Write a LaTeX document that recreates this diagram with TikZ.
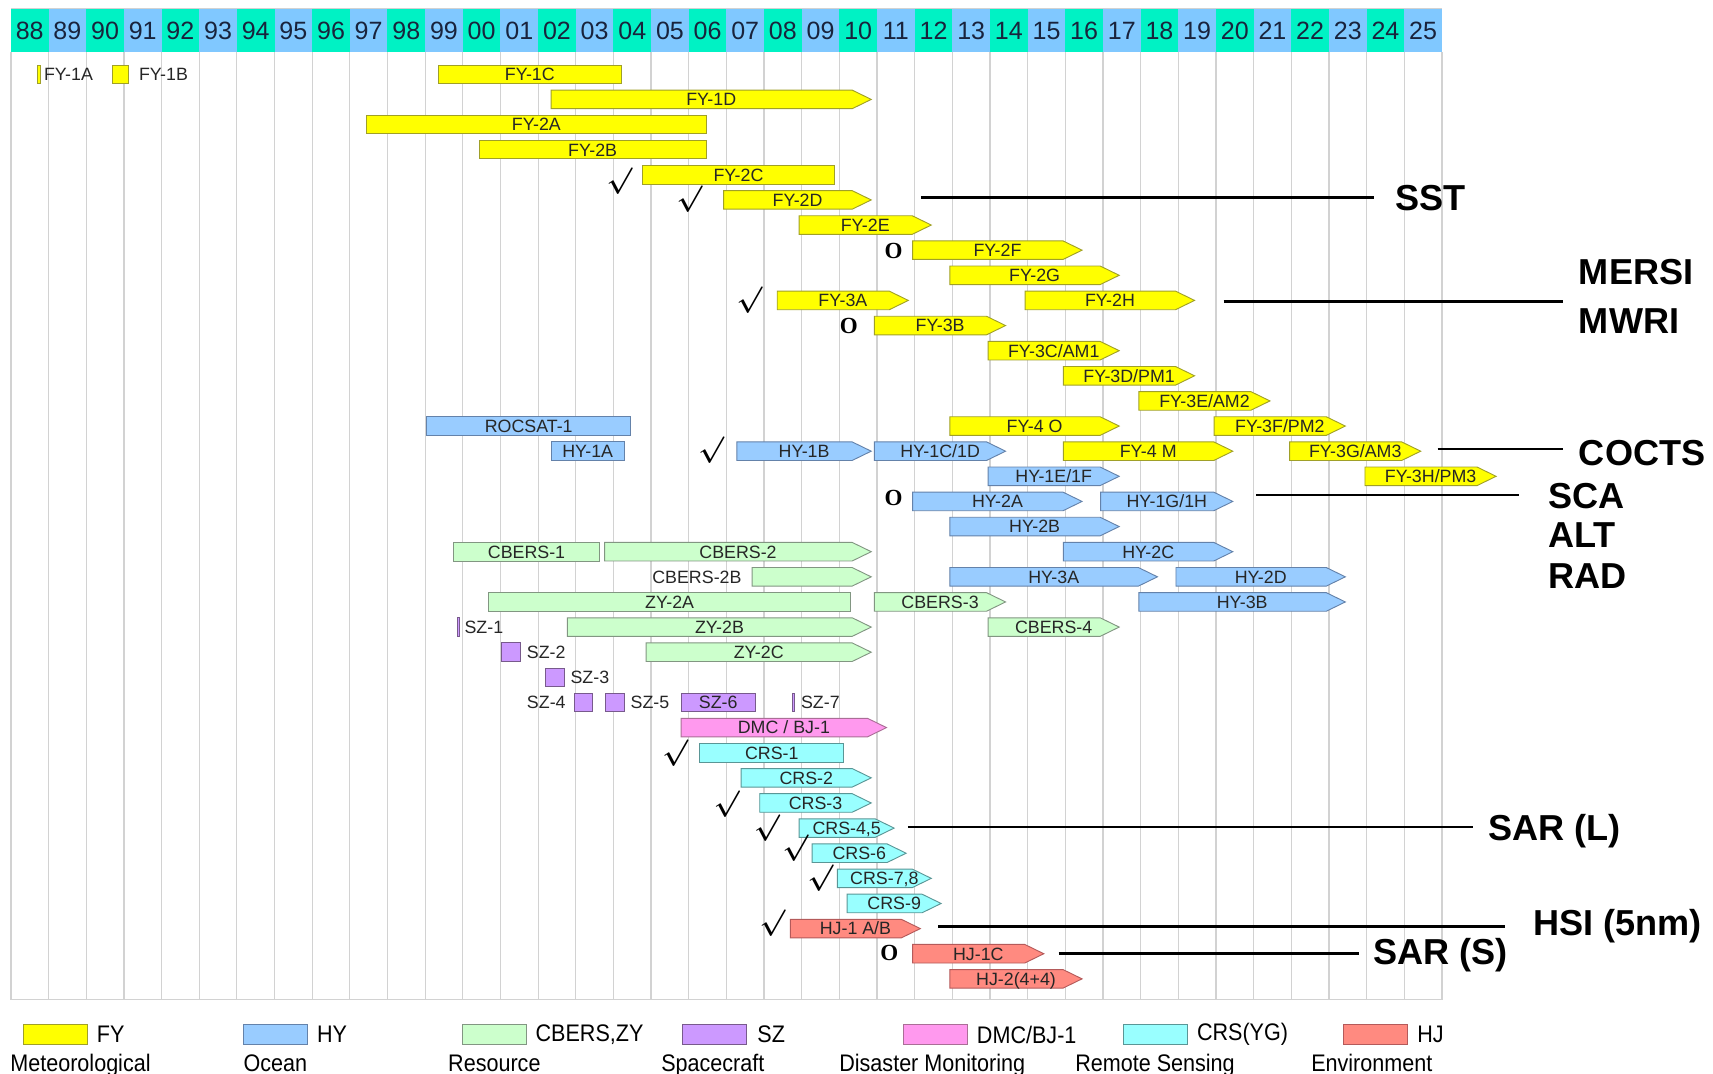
\documentclass[tikz,border=0pt]{standalone}
\usepackage{fontspec}
\setsansfont{Liberation Sans}
\newfontfamily\legfont[FakeStretch=0.9]{Liberation Sans}
\newfontfamily\markfont{Liberation Serif}
\usetikzlibrary{shapes.symbols}

\definecolor{fyfill}{RGB}{255,255,0}
\definecolor{fyline}{RGB}{160,160,40}
\definecolor{hyfill}{RGB}{153,204,255}
\definecolor{hyline}{RGB}{100,130,170}
\definecolor{cbfill}{RGB}{204,255,204}
\definecolor{cbline}{RGB}{130,150,130}
\definecolor{szfill}{RGB}{204,153,255}
\definecolor{szline}{RGB}{120,90,140}
\definecolor{dmcfill}{RGB}{255,153,238}
\definecolor{dmcline}{RGB}{170,110,150}
\definecolor{crsfill}{RGB}{153,255,255}
\definecolor{crsline}{RGB}{90,150,150}
\definecolor{hjfill}{RGB}{255,138,128}
\definecolor{hjline}{RGB}{180,90,90}
\definecolor{hdgreen}{RGB}{0,242,196}
\definecolor{hdblue}{RGB}{128,200,255}
\definecolor{hdtext}{RGB}{25,35,60}

\tikzset{
  rbar/.style={draw, line width=0.6pt, anchor=west, inner sep=0pt, minimum height=0.425cm,
    text height=8.3pt, text depth=0pt, text=black!85, font=\sffamily\fontsize{11.6}{12}\selectfont},
  abar/.style={rbar, signal, signal to=east, signal pointer angle=52,
    execute at begin node={\hspace*{0.22cm}}, execute at end node={\hspace*{-0.22cm}}},
  fy/.style={fill=fyfill, draw=fyline},
  hy/.style={fill=hyfill, draw=hyline},
  cb/.style={fill=cbfill, draw=cbline},
  sz/.style={fill=szfill, draw=szline},
  dmc/.style={fill=dmcfill, draw=dmcline},
  crs/.style={fill=crsfill, draw=crsline},
  hj/.style={fill=hjfill, draw=hjline},
  satlabel/.style={inner sep=0pt, text height=8.3pt, text depth=0pt, text=black!85,
    font=\sffamily\fontsize{11.6}{12}\selectfont},
  yearcell/.style={inner sep=0pt, minimum width=0.862cm, minimum height=1cm, text=hdtext,
    font=\sffamily\fontsize{16.3}{16}\selectfont},
  gridline/.style={gray!35, line width=0.8pt},
  okmark/.style={inner sep=0pt, font=\boldmath\fontsize{18}{18}\selectfont},
  plan/.style={inner sep=0pt, font=\markfont\bfseries\fontsize{15}{15}\selectfont},
  sensor/.style={anchor=west, inner sep=0pt, font=\sffamily\bfseries\fontsize{23.5}{24}\selectfont},
  senseline/.style={line width=1.8pt},
  legbox/.style={draw, line width=0.6pt, anchor=west, minimum width=1.4625cm, minimum height=0.45cm, inner sep=0pt},
  legtext/.style={inner sep=0pt, font=\legfont\fontsize{15.6}{16}\selectfont},
}

\begin{document}
\begin{tikzpicture}[x=0.025cm,y=-0.025cm]
\useasboundingbox (0,0) rectangle (1568,983);

% grid
\foreach \i in {0,...,38}
  \draw[gridline] ({10+34.47*\i},48) -- ({10+34.47*\i},915);
\draw[gridline] (10,915) -- (1320,915);
\draw[gridline] (10,8) -- (1320,8);

% year header
\foreach \yr [count=\i from 0] in {88,89,90,91,92,93,94,95,96,97,98,99,00,01,02,03,04,05,06,07,08,09,10,11,12,13,14,15,16,17,18,19,20,21,22,23,24,25} {
  \ifodd\i \def\hdcol{hdblue}\else \def\hdcol{hdgreen}\fi
  \node[yearcell, fill=\hdcol] (yr\yr) at ({27.235+34.47*\i},28) {\yr};
}

% FY
\node[rbar,fy,minimum width=0.075cm] (fy1a) at (33.6,68) {};
\node[satlabel,anchor=west] (fy1at) at (40,68) {FY-1A};
\node[rbar,fy,minimum width=0.3625cm] (fy1b) at (102.5,68) {};
\node[satlabel,anchor=west] (fy1bt) at (127,68) {FY-1B};
\node[rbar,fy,minimum width=4.175cm] (fy1c) at (401,68) {FY-1C};
\node[abar,fy,minimum width=7.325cm] (fy1d) at (504,91) {FY-1D};
\node[rbar,fy,minimum width=7.775cm] (fy2a) at (335,114) {FY-2A};
\node[rbar,fy,minimum width=5.2cm] (fy2b) at (438,137) {FY-2B};
\node[rbar,fy,minimum width=4.375cm] (fy2c) at (588,160) {FY-2C};
\node[abar,fy,minimum width=3.375cm] (fy2d) at (662,183) {FY-2D};
\node[abar,fy,minimum width=3.025cm] (fy2e) at (731,206) {FY-2E};
\node[abar,fy,minimum width=3.875cm] (fy2f) at (835,229) {FY-2F};
\node[abar,fy,minimum width=3.875cm] (fy2g) at (869,252) {FY-2G};
\node[abar,fy,minimum width=3cm] (fy3a) at (711,275) {FY-3A};
\node[abar,fy,minimum width=3.875cm] (fy2h) at (938,275) {FY-2H};
\node[abar,fy,minimum width=3cm] (fy3b) at (800,298) {FY-3B};
\node[abar,fy,minimum width=3cm] (fy3c) at (904,321) {FY-3C/AM1};
\node[abar,fy,minimum width=3cm] (fy3d) at (973,344) {FY-3D/PM1};
\node[abar,fy,minimum width=3cm] (fy3e) at (1042,367) {FY-3E/AM2};
\node[abar,fy,minimum width=3.875cm] (fy4o) at (869,390) {FY-4 O};
\node[abar,fy,minimum width=3cm] (fy3f) at (1111,390) {FY-3F/PM2};
\node[abar,fy,minimum width=3.875cm] (fy4m) at (973,413) {FY-4 M};
\node[abar,fy,minimum width=3cm] (fy3g) at (1180,413) {FY-3G/AM3};
\node[abar,fy,minimum width=3cm] (fy3h) at (1249,436) {FY-3H/PM3};

% HY
\node[rbar,hy,minimum width=4.675cm] (rocsat) at (390,390) {ROCSAT-1};
\node[rbar,hy,minimum width=1.675cm] (hy1a) at (504,413) {HY-1A};
\node[abar,hy,minimum width=3.075cm] (hy1b) at (674,413) {HY-1B};
\node[abar,hy,minimum width=3cm] (hy1c) at (800,413) {HY-1C/1D};
\node[abar,hy,minimum width=3cm] (hy1e) at (904,436) {HY-1E/1F};
\node[abar,hy,minimum width=3.875cm] (hy2a) at (835,459) {HY-2A};
\node[abar,hy,minimum width=3.025cm] (hy1g) at (1007,459) {HY-1G/1H};
\node[abar,hy,minimum width=3.875cm] (hy2b) at (869,482) {HY-2B};
\node[abar,hy,minimum width=3.875cm] (hy2c) at (973,505) {HY-2C};
\node[abar,hy,minimum width=4.75cm] (hy3a) at (869,528) {HY-3A};
\node[abar,hy,minimum width=3.875cm] (hy2d) at (1076,528) {HY-2D};
\node[abar,hy,minimum width=4.725cm] (hy3b) at (1042,551) {HY-3B};

% CBERS, ZY
\node[rbar,cb,minimum width=3.325cm] (cbers1) at (415,505) {CBERS-1};
\node[abar,cb,minimum width=6.1cm] (cbers2) at (553,505) {CBERS-2};
\node[satlabel,anchor=east] (cbers2bt) at (679,528) {CBERS-2B};
\node[abar,cb,minimum width=2.725cm] (cbers2b) at (688,528) {};
\node[rbar,cb,minimum width=8.275cm] (zy2a) at (447,551) {ZY-2A};
\node[abar,cb,minimum width=3cm] (cbers3) at (800,551) {CBERS-3};
\node[abar,cb,minimum width=6.95cm] (zy2b) at (519,574) {ZY-2B};
\node[abar,cb,minimum width=3cm] (cbers4) at (904,574) {CBERS-4};
\node[abar,cb,minimum width=5.15cm] (zy2c) at (591,597) {ZY-2C};

% SZ
\node[rbar,sz,minimum width=0.05cm] (sz1) at (418,574) {};
\node[satlabel,anchor=west] (sz1t) at (425,574) {SZ-1};
\node[rbar,sz,minimum width=0.425cm] (sz2) at (459,597) {};
\node[satlabel,anchor=west] (sz2t) at (482,597) {SZ-2};
\node[rbar,sz,minimum width=0.425cm] (sz3) at (499,620) {};
\node[satlabel,anchor=west] (sz3t) at (522,620) {SZ-3};
\node[satlabel,anchor=east] (sz4t) at (518,643) {SZ-4};
\node[rbar,sz,minimum width=0.425cm] (sz4) at (525,643) {};
\node[rbar,sz,minimum width=0.425cm] (sz5) at (554,643) {};
\node[satlabel,anchor=west] (sz5t) at (577,643) {SZ-5};
\node[rbar,sz,minimum width=1.7cm] (sz6) at (623,643) {SZ-6};
\node[rbar,sz,minimum width=0.05cm] (sz7) at (725,643) {};
\node[satlabel,anchor=west] (sz7t) at (733,643) {SZ-7};

% DMC, CRS, HJ
\node[abar,dmc,minimum width=4.7cm] (dmc) at (623,666) {DMC / BJ-1};
\node[rbar,crs,minimum width=3.3cm] (crs1) at (640,689) {CRS-1};
\node[abar,crs,minimum width=2.975cm] (crs2) at (678,712) {CRS-2};
\node[abar,crs,minimum width=2.55cm] (crs3) at (695,735) {CRS-3};
\node[abar,crs,minimum width=2.175cm] (crs45) at (731,758) {CRS-4,5};
\node[abar,crs,minimum width=2.15cm] (crs6) at (743,781) {CRS-6};
\node[abar,crs,minimum width=2.15cm] (crs78) at (766,804) {CRS-7,8};
\node[abar,crs,minimum width=2.15cm] (crs9) at (775,827) {CRS-9};
\node[abar,hj,minimum width=2.975cm] (hj1) at (723,850) {HJ-1 A/B};
\node[abar,hj,minimum width=3cm] (hj1c) at (835,873) {HJ-1C};
\node[abar,hj,minimum width=3.025cm] (hj2) at (869,896) {HJ-2(4+4)};

% launched / planned marks
\node[okmark] (ok1) at (567,166) {$\surd$};
\node[okmark] (ok2) at (631,182) {$\surd$};
\node[okmark] (ok3) at (686,275) {$\surd$};
\node[okmark] (ok4) at (651,412) {$\surd$};
\node[okmark] (ok5) at (618,689) {$\surd$};
\node[okmark] (ok6) at (665,736) {$\surd$};
\node[okmark] (ok7) at (702,758) {$\surd$};
\node[okmark] (ok8) at (728,776) {$\surd$};
\node[okmark] (ok9) at (751,804) {$\surd$};
\node[okmark] (ok10) at (707,845) {$\surd$};
\node[plan] (o1) at (818,230) {O};
\node[plan] (o2) at (777,298) {O};
\node[plan] (o3) at (818,456) {O};
\node[plan] (o4) at (814,872) {O};

% sensors
\node[sensor] (sst) at (1277,181) {SST};
\node[sensor] (mersi) at (1445,249) {MERSI};
\node[sensor] (mwri) at (1445,294) {MWRI};
\node[sensor] (cocts) at (1445,415) {COCTS};
\node[sensor] (sca) at (1417,454) {SCA};
\node[sensor] (alt) at (1417,490) {ALT};
\node[sensor] (rad) at (1417,527) {RAD};
\node[sensor] (sarl) at (1362,761) {SAR (L)};
\node[sensor] (hsi) at (1403,848) {HSI (5nm)};
\node[sensor] (sars) at (1257,874) {SAR (S)};
\coordinate (sst0) at (843,181);
\coordinate (mm0) at (1120,276);
\coordinate (coc0) at (1316,411);
\coordinate (sca0) at (1150,453);
\coordinate (sarl0) at (831,757);
\coordinate (hsi0) at (859,848);
\coordinate (sars0) at (969,873);
\draw[senseline,shorten >=0.475cm] (sst0) -- (sst0 -| sst.west);
\draw[senseline,shorten >=0.35cm] (mm0) -- (mm0 -| mersi.west);
\draw[senseline,shorten >=0.35cm] (coc0) -- (coc0 -| cocts.west);
\draw[senseline,shorten >=0.675cm] (sca0) -- (sca0 -| sca.west);
\draw[senseline,shorten >=0.35cm] (sarl0) -- (sarl0 -| sarl.west);
\draw[senseline,shorten >=0.625cm] (hsi0) -- (hsi0 -| hsi.west);
\draw[senseline,shorten >=0.325cm] (sars0) -- (sars0 -| sars.west);

% legend
\node[legbox,fy] (lfy) at (21.4,947) {};
\node[legbox,hy] (lhy) at (222.7,947) {};
\node[legbox,cb] (lcb) at (422.6,947) {};
\node[legbox,sz] (lsz) at (624,947) {};
\node[legbox,dmc] (ldmc) at (826.9,947) {};
\node[legbox,crs] (lcrs) at (1028,947) {};
\node[legbox,hj] (lhj) at (1229.6,947) {};
\node[legtext,anchor=west] (tfy) at (88.5,947) {FY};
\node[legtext,anchor=west] (thy) at (290,947) {HY};
\node[legtext,anchor=west] (tcb) at (490,947) {CBERS,ZY};
\node[legtext,anchor=west] (tsz) at (693,947) {SZ};
\node[legtext,anchor=west] (tdmc) at (894,947) {DMC/BJ-1};
\node[legtext,anchor=west] (tcrs) at (1095.4,947) {CRS(YG)};
\node[legtext,anchor=west] (thj) at (1297,947) {HJ};
\node[legtext,anchor=base west] (nfy) at (9.2,981) {Meteorological};
\node[legtext,anchor=base west] (nhy) at (222.7,981) {Ocean};
\node[legtext,anchor=base west] (ncb) at (410,981) {Resource};
\node[legtext,anchor=base west] (nsz) at (605,981) {Spacecraft};
\node[legtext,anchor=base west] (ndmc) at (768,981) {Disaster Monitoring};
\node[legtext,anchor=base west] (ncrs) at (984,981) {Remote Sensing};
\node[legtext,anchor=base west] (nhj) at (1200,981) {Environment};
\end{tikzpicture}
\end{document}
